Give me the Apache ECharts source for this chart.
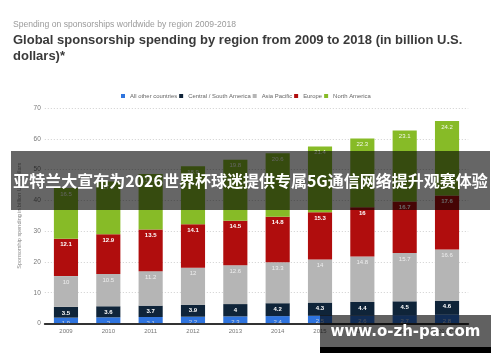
<!DOCTYPE html>
<html>
<head>
<meta charset="utf-8">
<script src="https://cdn.jsdelivr.net/npm/echarts@6/dist/echarts.min.js"></script>
<style>
html,body{margin:0;padding:0;background:#fff;}
#chart{width:500px;height:362px;}
</style>
</head>
<body>
<div id="chart"></div>
<script>
var years = ['2009','2010','2011','2012','2013','2014','2015','2016','2017','2018**'];
var allOther = [1.9, 2, 2.1, 2.2, 2.3, 2.4, 2.5, 2.6, 2.7, 2.8];
var centralSouthAmerica = [3.5, 3.6, 3.7, 3.9, 4, 4.2, 4.3, 4.4, 4.5, 4.6];
var asiaPacific = [10, 10.5, 11.2, 12, 12.6, 13.3, 14, 14.8, 15.7, 16.6];
var europe = [12.1, 12.9, 13.5, 14.1, 14.5, 14.8, 15.3, 16, 16.7, 17.6];
var northAmerica = [16.5, 17.1, 18.1, 18.9, 19.8, 20.6, 21.4, 22.3, 23.1, 24.2];
var yTicks = [0, 10, 20, 30, 40, 50, 60, 70];

var subtitleText = 'Spending on sponsorships worldwide by region 2009-2018';
var titleText = 'Global sponsorship spending by region from 2009 to 2018 (in billion U.S.\ndollars)*';
var yAxisName = 'Sponsorship spending in billion U.S. dollars';
var bannerText = '亚特兰大宣布为2026世界杯球迷提供专属5G通信网络提升观赛体验';
var watermarkText = 'www.o-zh-pa.com';

var chart = echarts.init(document.getElementById('chart'), null, {renderer: 'canvas'});

function mkSeries(name, data, color, labelColor, bold) {
  return {
    name: name,
    type: 'bar',
    stack: 'total',
    data: data,
    barWidth: '57%',
    itemStyle: {color: color},
    label: {
      show: true,
      position: 'insideTop',
      distance: 3,
      color: labelColor,
      fontSize: 6,
      fontWeight: bold ? 'bold' : 'normal',
      fontFamily: 'Liberation Sans, Arial, sans-serif'
    },
    emphasis: {disabled: true}
  };
}

var option = {
  animation: false,
  backgroundColor: '#ffffff',
  title: [
    {
      text: subtitleText,
      left: 13,
      top: 20,
      padding: 0,
      textStyle: {fontSize: 8.6, color: '#9a9a9a', fontWeight: 'normal', fontFamily: 'Liberation Sans, Arial, sans-serif'}
    },
    {
      text: titleText,
      left: 13,
      top: 32,
      padding: 0,
      textStyle: {fontSize: 13, color: '#3a3a3a', fontWeight: 'bold', lineHeight: 16, fontFamily: 'Liberation Sans, Arial, sans-serif'}
    }
  ],
  legend: {
    left: 121,
    top: 93,
    padding: 0,
    itemWidth: 4,
    itemHeight: 4,
    itemGap: 2,
    icon: 'rect',
    selectedMode: false,
    textStyle: {fontSize: 5.9, color: '#666', fontFamily: 'Liberation Sans, Arial, sans-serif'},
    data: ['All other countries', 'Central / South America', 'Asia Pacific', 'Europe', 'North America']
  },
  grid: {left: 44.8, right: 31.8, top: 108, bottom: 38.5, containLabel: false},
  xAxis: {
    type: 'category',
    data: years,
    z: 5,
    axisLine: {show: true, lineStyle: {color: '#333', width: 2}},
    axisTick: {show: false},
    axisLabel: {fontSize: 6, color: '#777', margin: 5, fontFamily: 'Liberation Sans, Arial, sans-serif'}
  },
  yAxis: {
    type: 'value',
    min: yTicks[0],
    max: yTicks[yTicks.length - 1],
    interval: 10,
    name: yAxisName,
    nameLocation: 'middle',
    nameRotate: 90,
    nameGap: 16,
    nameTextStyle: {fontSize: 5.5, color: '#888', fontFamily: 'Liberation Sans, Arial, sans-serif'},
    axisLine: {show: false},
    axisTick: {show: false},
    splitLine: {show: true, lineStyle: {color: '#cfcfcf', type: [1, 2], width: 1}},
    axisLabel: {fontSize: 6.5, color: '#777', margin: 4, fontFamily: 'Liberation Sans, Arial, sans-serif'}
  },
  series: [
    mkSeries('All other countries', allOther, '#2f74de', '#cfd6e0', false),
    mkSeries('Central / South America', centralSouthAmerica, '#0f2439', '#ffffff', true),
    mkSeries('Asia Pacific', asiaPacific, '#b5b5b5', '#eeeeee', false),
    mkSeries('Europe', europe, '#b00d0d', '#ffffff', true),
    mkSeries('North America', northAmerica, '#87bb27', '#f4f8ea', false)
  ],
  graphic: [
    {
      type: 'rect',
      z: 100,
      shape: {x: 11, y: 151, width: 479, height: 59},
      style: {fill: 'rgba(0,0,0,0.6)'}
    },
    {
      type: 'text',
      z: 101,
      x: 250.5,
      y: 180.5,
      style: {
        text: bannerText,
        fill: '#ffffff',
        font: 'bold 16px "Noto Sans CJK SC", sans-serif',
        align: 'center',
        verticalAlign: 'middle'
      }
    },
    {
      type: 'rect',
      z: 100,
      shape: {x: 320, y: 315, width: 171, height: 33},
      style: {fill: 'rgba(0,0,0,0.62)'}
    },
    {
      type: 'rect',
      z: 100,
      shape: {x: 320, y: 347, width: 171, height: 6},
      style: {fill: '#000000'}
    },
    {
      type: 'text',
      z: 101,
      x: 405.5,
      y: 332,
      style: {
        text: watermarkText,
        fill: '#ffffff',
        font: 'bold 15px "DejaVu Sans", "Liberation Sans", sans-serif',
        align: 'center',
        verticalAlign: 'middle'
      }
    }
  ]
};
chart.setOption(option);
</script>
</body>
</html>
